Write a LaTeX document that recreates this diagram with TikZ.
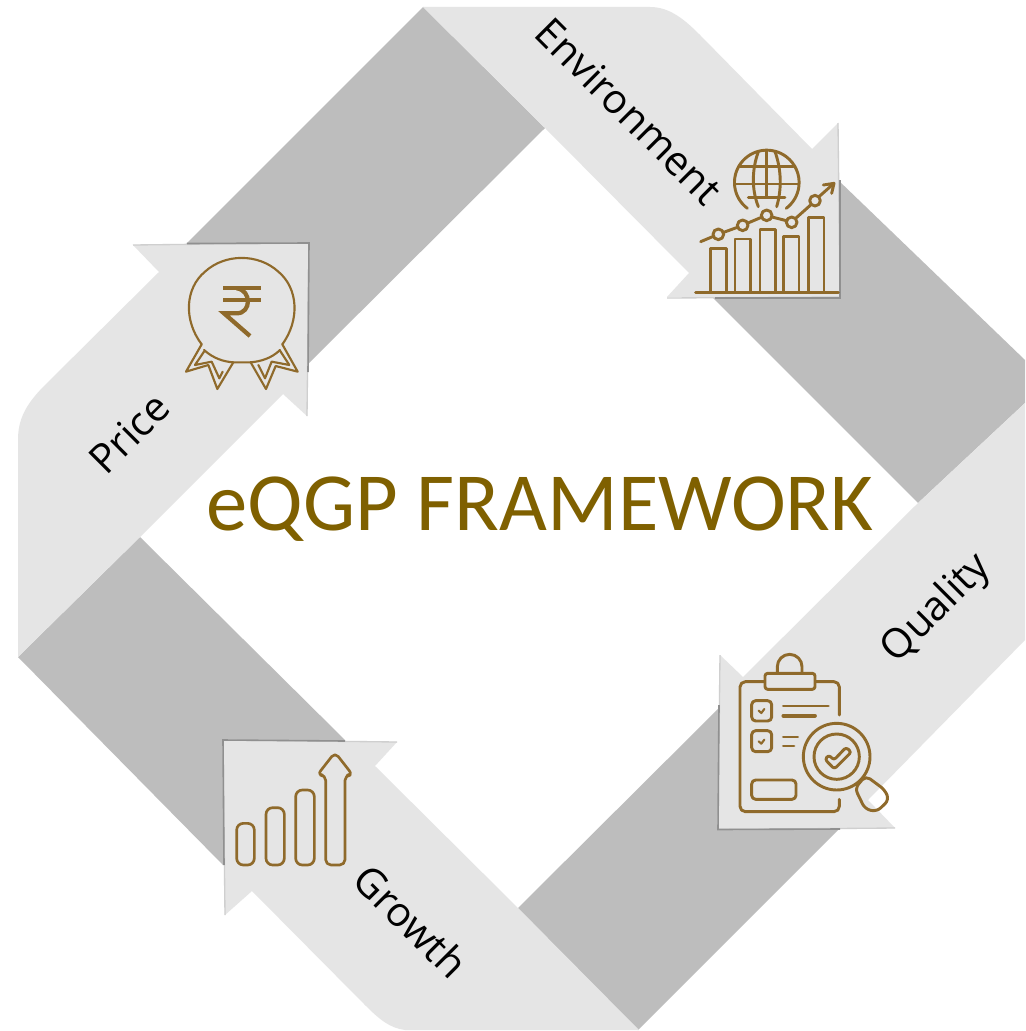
\documentclass[tikz,border=0pt]{standalone}
\usepackage{fontspec}
\setmainfont{Carlito}
\newfontfamily\labelfont{Open Sans}
\definecolor{band}{HTML}{BDBDBD}
\definecolor{arrowfill}{HTML}{E5E5E5}
\definecolor{icon}{HTML}{8F6A2B}
\definecolor{titlecol}{HTML}{7F6000}
\definecolor{edgeA}{HTML}{CFCFCF}
\definecolor{edgeB}{HTML}{909090}
\tikzset{
  bandshape/.style={fill=band,draw=none},
  arrowshape/.style={fill=arrowfill,draw=none},
  softedge/.style={draw=edgeA,line width=1pt,line join=miter},
  hardedge/.style={draw=edgeB,line width=1.2pt,line join=miter},
  ico/.style={draw=icon,line width=2.2pt,line cap=round,line join=round},
  icomid/.style={draw=icon,line width=2pt,line cap=round,line join=round},
  icothin/.style={draw=icon,line width=1.6pt,line cap=round,line join=round},
  stagelabel/.style={font=\labelfont\fontsize{30.5}{30.5}\selectfont,text=black,inner sep=0pt},
  titletext/.style={font=\fontsize{62}{62}\selectfont,text=titlecol,inner sep=0pt}
}
\begin{document}
\begin{tikzpicture}[x=0.75pt,y=-0.75pt]
\useasboundingbox (0,0) rectangle (1025,1031);
\fill[white] (0,0) rectangle (1025,1031);
\clip (0,0) rectangle (1025,1031);
% dark bands
\path[bandshape] (423,7)--(545,128)--(300,372)--(185,245)--cycle;
\path[bandshape] (838,180)--(1025,360)--(1025,403)--(918,503)--(712,297)--(838,297)--cycle;
\path[bandshape] (722,705)--(840,828)--(638,1030)--(518,908)--cycle;
\path[bandshape] (18,657)--(140,537)--(345,740)--(223,740)--(223,865)--cycle;
% Environment arrow
\path[arrowshape] (423,7)--(650,7) .. controls (670,7) and (685,20) .. (700,35)--(812,149)--(838,123)--(840,297)--(667,297)--(689,273)--(545,128)--cycle;
\draw[softedge] (838,123)--(840,297)--(667,298);
\draw[hardedge] (840,180)--(840,298)--(715,298);
% Price arrow
\path[arrowshape] (159,272)--(45,385) .. controls (25,405) and (18,420) .. (18,440)--(18,657)--(140,537)--(283,394)--(307,416)--(308,243)--(133,245)--cycle;
\draw[softedge] (133,245)--(309,243)--(307,416);
\draw[hardedge] (187,243.5)--(309,243)--(308,372);
% Quality arrow
\path[arrowshape] (743,677)--(918,503)--(1025,403)--(1025,640)--(868,800)--(895,828)--(718,829)--(720,655)--cycle;
\draw[softedge] (720,655)--(718,829.5)--(895,828);
\draw[hardedge] (719,705)--(718,829.5)--(840,829);
% Growth arrow
\path[arrowshape] (375,766)--(518,908)--(639,1030)--(405,1030) .. controls (390,1028) and (380,1020) .. (365,1005)--(252,891)--(225,915)--(223,740)--(397,742)--cycle;
\draw[softedge] (225,915)--(223,740)--(397,742);
\draw[hardedge] (224,865)--(223,740)--(345,741);
% Environment icon
\begin{scope}[shift={(660,110)},scale=1/3]
\draw[ico] (262,295) arc[start angle=127,end angle=413,radius=97];
\draw[ico] (320,121)--(320,262);
\draw[ico] (295,125) .. controls (275,180) and (275,240) .. (295,290);
\draw[ico] (345,125) .. controls (365,180) and (365,240) .. (350,290);
\draw[ico] (240,170)--(400,170);
\draw[ico] (225,222)--(415,222);
\draw[ico] (265,262)--(375,262);
\draw[ico] (152,547)--(152,415)--(200,415)--(200,547);
\draw[ico] (225,547)--(225,387)--(272,387)--(272,547);
\draw[ico] (300,547)--(300,358)--(347,358)--(347,547);
\draw[ico] (370,547)--(370,380)--(417,380)--(417,547);
\draw[ico] (445,547)--(445,322)--(492,322)--(492,547);
\draw[ico] (107,547)--(535,547);
\draw[ico] (122,395)--(160,379);
\draw[ico] (191,367)--(232,352);
\draw[ico] (264,339)--(304,322);
\draw[ico] (336,321)--(379,332);
\draw[ico] (407,325)--(453,284);
\draw[ico] (477,260)--(522,220)--(490,225);
\draw[ico] (522,220)--(515,250);
\draw[ico] (175,373) circle[radius=16];
\draw[ico] (248,346) circle[radius=16];
\draw[ico] (320,316) circle[radius=16];
\draw[ico] (395,337) circle[radius=16];
\draw[ico] (465,272) circle[radius=16];
\end{scope}
% Price icon
\begin{scope}[shift={(130,230)},scale=1/3]
\draw[icothin] (215,343) .. controls (160,270) and (165,175) .. (225,125) .. controls (285,70) and (385,70) .. (445,125) .. controls (505,175) and (510,270) .. (457,343);
\draw[icothin] (222,360) .. controls (250,385) and (280,395) .. (310,397)--(360,397) .. controls (390,395) and (425,385) .. (450,360);
\draw[icothin] (215,343)--(168,425)--(235,405)--(262,477)--(310,397);
\draw[icothin] (222,365)--(195,405)--(245,395)--(268,445)--(278,425);
\draw[icothin] (457,343)--(503,425)--(437,408)--(408,477)--(362,397);
\draw[icothin] (450,362)--(478,405)--(425,395)--(405,445)--(385,405);
\draw[draw=icon,line width=3.2pt] (280,175)--(392,175);
\draw[draw=icon,line width=3.2pt] (280,210)--(392,210);
\draw[draw=icon,line width=3.2pt,line join=miter] (320,175) .. controls (365,180) and (365,250) .. (320,250)--(282,250)--(360,318);
\end{scope}
% Quality icon
\begin{scope}[shift={(700,640)},scale=1/3]
\draw[ico,rounded corners=4pt] (192,125)--(120,125)--(120,515)--(418,515)--(418,478);
\draw[ico,rounded corners=4pt] (348,125)--(418,125)--(418,225);
\draw[ico,rounded corners=2pt] (195,100) rectangle (345,148);
\draw[ico] (232,100)--(232,80) arc[start angle=180,end angle=360,radius=37]--(306,100);
\draw[ico,rounded corners=3pt] (155,182) rectangle (215,243);
\draw[ico,rounded corners=3pt] (155,272) rectangle (215,335);
\draw[icothin] (176,212)--(184,219)--(193,207);
\draw[icothin] (176,304)--(184,311)--(193,299);
\draw[ico] (250,198)--(385,198);
\draw[draw=icon,line width=2.8pt,line cap=round] (250,227)--(345,227);
\draw[ico] (250,291)--(293,291);
\draw[ico] (250,318)--(282,318);
\draw[ico,rounded corners=3pt] (155,420) rectangle (288,478);
\draw[ico] (410,350) circle[radius=100];
\draw[ico] (410,350) circle[radius=68];
\draw[ico,rounded corners=2pt] (386,345)--(402,360)--(438,322)--(454,336)--(403,387)--(375,358)--cycle;
\draw[ico,rounded corners=4pt] (465,445)--(497,407)--(555,450)--(567,480)--(530,515)--(495,507)--cycle;
\end{scope}
% Growth icon
\begin{scope}[shift={(210,725)},scale=1/3]
\draw[icomid,rounded corners=5pt] (80,295) rectangle (133,420);
\draw[icomid,rounded corners=5pt] (168,248) rectangle (223,420);
\draw[icomid,rounded corners=5pt] (257,195) rectangle (313,420);
\draw[icomid,rounded corners=4pt] (347,150)--(347,420)--(405,420)--(405,150)--(428,150)--(375,82)--(322,150)--cycle;
\end{scope}
% Text
\node[titletext] (title) at (540,509) {eQGP FRAMEWORK};
\node[stagelabel,rotate=-45] (environment) at (629,111) {Environment};
\node[stagelabel,rotate=45] (price) at (129,433) {Price};
\node[stagelabel,rotate=45] (quality) at (937,609) {Quality};
\node[stagelabel,rotate=-45] (growth) at (411,921) {Growth};
\end{tikzpicture}
\end{document}
